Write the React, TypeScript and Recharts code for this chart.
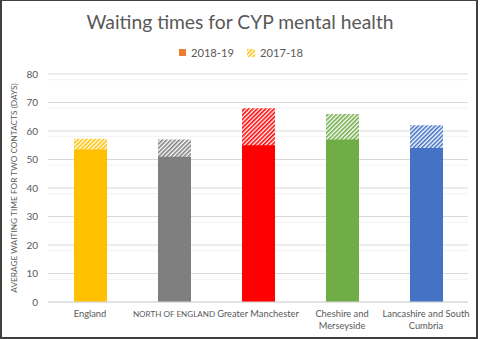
import React from "react";
import { BarChart, Bar, XAxis, YAxis, CartesianGrid, Legend, Cell } from "recharts";

const FONT = "Lato, 'Noto Sans', sans-serif";
const TEXT_COLOR = "#595959";

// chart values
const categories = [
  "England",
  "NORTH OF ENGLAND",
  "Greater Manchester",
  "Cheshire and\nMerseyside",
  "Lancashire and South\nCumbria",
];
const seriesNames = ["2018-19", "2017-18"];
const values2018 = [53.5, 51, 55, 57, 54];
const values2017 = [57.3, 57, 68, 66, 62];
const barColors = ["#FFC000", "#7F7F7F", "#FF0000", "#70AD47", "#4472C4"];
const yTicks = [0, 10, 20, 30, 40, 50, 60, 70, 80];
const minorTicks = [
  2, 4, 6, 8, 12, 14, 16, 18, 22, 24, 26, 28, 32, 34, 36, 38,
  42, 44, 46, 48, 52, 54, 56, 58, 62, 64, 66, 68, 72, 74, 76, 78,
];

const data = categories.map((category, i) => ({
  category,
  y2018: values2018[i],
  y2017: values2017[i],
}));

const CategoryTick = (props: any) => {
  const { x, y, payload } = props;
  const label = String(payload.value);
  const lines = label.split("\n");
  // Lato capitals run wider than the original's, so shrink all-caps labels a little
  const size = label === label.toUpperCase() ? 8.1 : 9.3;
  return (
    <text x={x} y={y} textAnchor="middle" fill={TEXT_COLOR} fontSize={size} fontFamily={FONT}>
      {lines.map((line, i) => (
        <tspan key={i} x={x} dy={i === 0 ? 7 : 11.5}>
          {line}
        </tspan>
      ))}
    </text>
  );
};

const LegendContent = () => (
  <div
    style={{
      display: "flex",
      justifyContent: "center",
      alignItems: "center",
      gap: 13,
      fontSize: 11.2,
      color: TEXT_COLOR,
      fontFamily: FONT,
      paddingLeft: 2,
    }}
  >
    <span style={{ display: "flex", alignItems: "center", gap: 5 }}>
      <svg width={7} height={7}>
        <rect width={7} height={7} fill="#ED7D31" />
      </svg>
      {seriesNames[0]}
    </span>
    <span style={{ display: "flex", alignItems: "center", gap: 5 }}>
      <svg width={8} height={8}>
        <defs>
          <pattern id="legendHatch" width={3} height={3} patternUnits="userSpaceOnUse" patternTransform="rotate(45)">
            <rect width={3} height={3} fill="#fff" />
            <rect width={1.5} height={3} fill="#FFC000" />
          </pattern>
        </defs>
        <rect width={8} height={8} fill="url(#legendHatch)" />
      </svg>
      {seriesNames[1]}
    </span>
  </div>
);

export default function App() {
  return (
    <div style={{ position: "absolute", left: 0, top: 0, width: 480, height: 339, background: "#fff" }}>
      <div
        style={{
          position: "absolute",
          top: 10,
          left: 0,
          width: 480,
          textAlign: "center",
          fontSize: 19.3,
          fontFamily: FONT,
          color: TEXT_COLOR,
        }}
      >
        Waiting times for CYP mental health
      </div>
      <BarChart width={480} height={339} data={data} margin={{ top: 61, right: 12, bottom: 0, left: 0 }}>
        <defs>
          {barColors.map((c, i) => (
            <pattern
              key={i}
              id={`hatch${i}`}
              width={3}
              height={3}
              patternUnits="userSpaceOnUse"
              patternTransform="rotate(45)"
            >
              <rect width={3} height={3} fill="#fff" />
              <rect width={1.6} height={3} fill={c} />
            </pattern>
          ))}
        </defs>
        <CartesianGrid horizontalValues={minorTicks} vertical={false} stroke="#F2F2F2" />
        <CartesianGrid horizontalValues={yTicks} vertical={false} stroke="#D9D9D9" />
        <XAxis xAxisId="back" dataKey="category" hide />
        <XAxis
          dataKey="category"
          height={37}
          interval={0}
          tick={<CategoryTick />}
          tickLine={false}
          axisLine={{ stroke: "#D9D9D9" }}
        />
        <YAxis
          domain={[0, 80]}
          ticks={yTicks}
          width={48}
          tickSize={0}
          tickMargin={10}
          axisLine={false}
          tickLine={false}
          tick={{ fill: TEXT_COLOR, fontSize: 10, fontFamily: FONT }}
          label={{
            value: "AVERAGE WAITING TIME FOR TWO CONTACTS (DAYS)",
            angle: -90,
            position: "insideLeft",
            offset: 14,
            style: { textAnchor: "middle", fill: TEXT_COLOR, fontSize: 8.3, fontFamily: FONT },
          }}
        />
        <Bar xAxisId="back" dataKey="y2017" name={seriesNames[1]} barSize={33} isAnimationActive={false}>
          {data.map((_, i) => (
            <Cell key={i} fill={`url(#hatch${i})`} />
          ))}
        </Bar>
        <Bar dataKey="y2018" name={seriesNames[0]} barSize={33} isAnimationActive={false}>
          {data.map((_, i) => (
            <Cell key={i} fill={barColors[i]} />
          ))}
        </Bar>
        <Legend
          layout="vertical"
          align="center"
          verticalAlign="top"
          content={<LegendContent />}
          wrapperStyle={{ top: 46, left: 0, width: 480 }}
        />
      </BarChart>
      <div
        style={{
          position: "absolute",
          left: 0,
          top: 0,
          width: 478,
          height: 339,
          boxSizing: "border-box",
          border: "2px solid #404040",
          borderTopWidth: 1,
          pointerEvents: "none",
        }}
      />
    </div>
  );
}
